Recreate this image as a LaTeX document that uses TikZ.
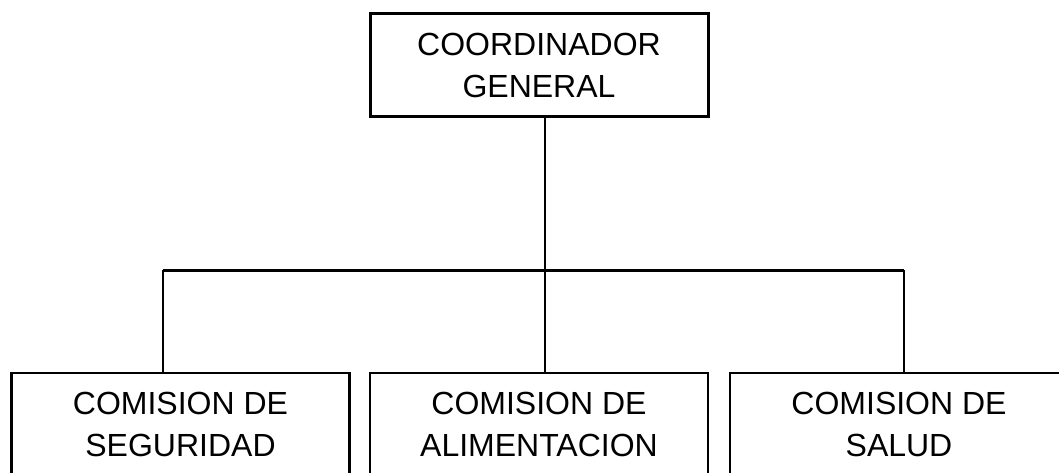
\documentclass[tikz,border=0pt]{standalone}
\usepackage{fontspec}
\setmainfont{Liberation Sans}
\begin{document}
\begin{tikzpicture}[
      x=0.5pt,
      y=-0.5pt,
      box/.style={draw, line width=1.1pt, minimum width=169pt,
        minimum height=51.5pt, inner sep=0pt, align=center,
        font=\fontsize{16}{21}\selectfont},
      topbox/.style={box, line width=1.5pt}]
    \useasboundingbox (0,0) rectangle (1059,472);

    \node[topbox] (coord) at (539,  65)   {COORDINADOR\\GENERAL};
    \node[box]    (seg)   at (180.5, 424.5) {COMISION DE\\SEGURIDAD};
    \node[box]    (ali)   at (539, 424.5) {COMISION DE\\ALIMENTACION};
    \node[box]    (sal)   at (899, 424.5) {COMISION DE\\SALUD};

    \coordinate (bus)  at (545, 270);
    \coordinate (busL) at (163, 270);
    \coordinate (busR) at (904, 270);

    \draw[line width=1pt]   (coord.south -| bus) -- (bus);
    \draw[line width=1.5pt] (busL) -- (busR);
    \draw[line width=1pt]   (busL) -- (busL |- seg.north);
    \draw[line width=1pt]   (bus)  -- (bus |- ali.north);
    \draw[line width=1pt]   (busR) -- (busR |- sal.north);

  \end{tikzpicture}
\end{document}
